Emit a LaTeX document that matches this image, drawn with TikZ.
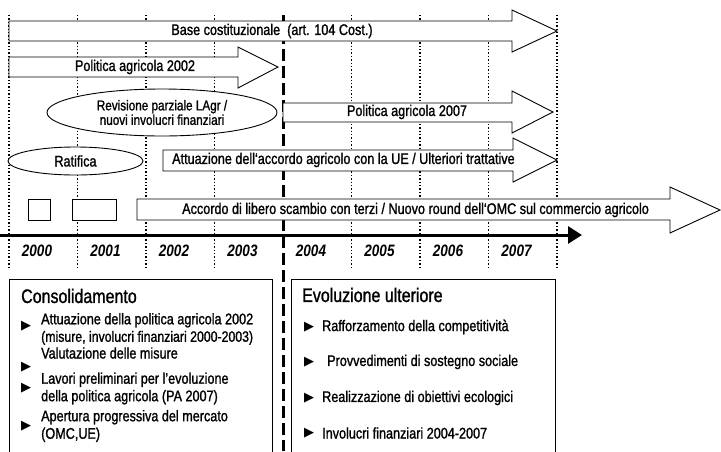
\documentclass[tikz,border=0pt]{standalone}
\usepackage{fontspec}
\setmainfont{Liberation Sans}[FakeStretch=0.82,UprightFeatures={FakeBold=1.2}]
\newfontfamily\symfont{DejaVu Sans}
\usetikzlibrary{arrows.meta,positioning,shapes.geometric}

\begin{document}
\begin{tikzpicture}[x=1pt,y=-1pt,
  year line/.style={dotted,line width=1.4pt},
  cut line/.style={line width=3pt,dash pattern=on 12pt off 5pt},
  band/.style={draw,fill=white,line width=0.9pt},
  lbl/.style={font=\fontsize{15.4}{17.5}\selectfont,inner sep=0pt},
  head/.style={font=\fontsize{19.5}{21}\selectfont,inner sep=0pt,anchor=west},
  yr/.style={font=\fontsize{16.5}{17}\selectfont\bfseries\itshape,inner sep=0pt},
  bul/.style={font=\symfont\fontsize{13}{13}\selectfont,inner sep=0pt},
  item/.style={lbl,anchor=west,align=left},
  oval/.style={ellipse,draw,fill=white,line width=0.9pt,inner sep=0pt,align=center,font=\fontsize{14.3}{14.5}\selectfont},
  box/.style={draw,fill=white,line width=0.9pt,inner sep=0pt,minimum height=21pt}]

  \useasboundingbox (0,0) rectangle (721,451);
  % year grid
  \foreach \i in {0,1,2,3,5,6,7,8}
    \draw[year line] (9+68.5*\i,15) -- (9+68.5*\i,268);
  \draw[cut line] (283,15) -- (283,451);

  % block arrows
  \draw[band] (9,21) -- (512,21) -- (512,10) -- (557,31) -- (512,52) -- (512,41) -- (9,41) -- cycle;
  \draw[band] (9,57) -- (238,57) -- (238,47) -- (278,67) -- (238,88) -- (238,77) -- (9,77) -- cycle;
  \draw[band] (283,103) -- (512,103) -- (512,91) -- (553,112) -- (512,133) -- (512,122) -- (283,122) -- cycle;
  \draw[band] (163,150) -- (513,150) -- (513,138) -- (557,160) -- (513,182) -- (513,171) -- (163,171) -- cycle;
  \draw[band] (137,199) -- (670,199) -- (670,187) -- (720,210) -- (670,233) -- (670,220) -- (137,220) -- cycle;

  \node[lbl] (base) at (272,31) {Base costituzionale\ \ (art. 104 Cost.)};
  \node[lbl] (pa02) at (135,67) {Politica agricola 2002};
  \node[lbl] (pa07) at (407,112) {Politica agricola 2007};
  \node[lbl,anchor=west] (ue) at (172,160) {Attuazione dell‘accordo agricolo con la UE / Ulteriori trattative};
  \node[lbl,anchor=west] (omc) at (182,210) {Accordo di libero scambio con terzi / Nuovo round dell‘OMC sul commercio agricolo};

  \node[oval,minimum width=230pt,minimum height=47pt] (lagr) at (162,112.5) {Revisione parziale LAgr /\\nuovi involucri finanziari};
  \node[oval,minimum width=135pt,minimum height=28pt,font=\fontsize{15.4}{16}\selectfont] (rat) at (75.5,161) {Ratifica};
  \node[box,minimum width=22pt] (sq1) at (39,209.5) {};
  \node[box,minimum width=44pt] (sq2) at (94,209.5) {};

  % time axis
  \coordinate (ax0) at (0,235);
  \coordinate (ax1) at (582,235);
  \draw[line width=3pt,-{Triangle[length=14pt,width=17pt]}] (ax0) -- (ax1);
  \foreach \y [count=\i from 0] in {2000,2001,2002,2003,2004,2005,2006,2007}
    \node[yr] (y\y) at (37+68.5*\i,251) {\y};

  % lower boxes
  \draw[line width=1pt] (9,455) -- (9,279) -- (272,279) -- (272,455);
  \draw[line width=1pt] (291,455) -- (291,279) -- (555,279) -- (555,455);

  \node[head] (cons) at (21,296) {Consolidamento};
  \node[item] (c1) at (41,329) {Attuazione della politica agricola 2002\\{\fontsize{15}{17}\selectfont(misure, involucri finanziari 2000-2003)}};
  \node[item] (c2) at (41,353) {Valutazione delle misure};
  \node[item] (c3) at (41,388.5) {Lavori preliminari per l’evoluzione\\della politica agricola (PA 2007)};
  \node[item] (c4) at (41,426) {Apertura progressiva del mercato\\(OMC,UE)};
  \node[bul] (b1) at (26,326) {▶};
  \node[bul] (b2) at (26,367) {▶};
  \node[bul] (b3) at (26,388) {▶};
  \node[bul] (b4) at (26,426) {▶};

  \node[head] (evo) at (302,295) {Evoluzione ulteriore};
  \node[item] (e1) at (322,327) {Rafforzamento della competitività};
  \node[item] (e2) at (327,362) {Provvedimenti di sostegno sociale};
  \node[item] (e3) at (322,398) {Realizzazione di obiettivi ecologici};
  \node[item] (e4) at (322,433) {Involucri finanziari 2004-2007};
  \node[bul] (d1) at (309,327) {▶};
  \node[bul] (d2) at (309,362) {▶};
  \node[bul] (d3) at (309,398) {▶};
  \node[bul] (d4) at (309,433) {▶};
\end{tikzpicture}
\end{document}
